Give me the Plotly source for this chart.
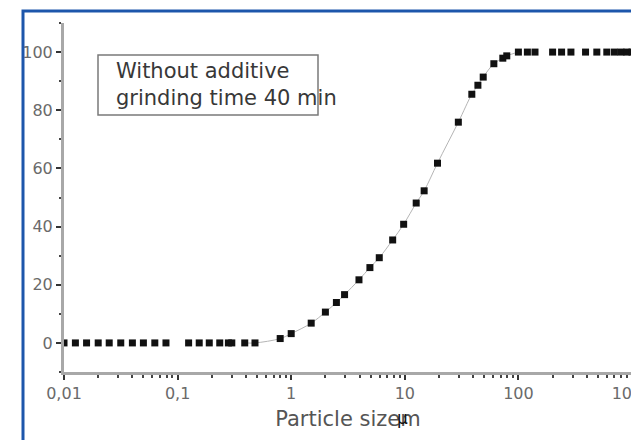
import plotly.graph_objects as go

# Particle size (µm) and cumulative value (%)
particle_size = [
    0.01, 0.0126, 0.0158, 0.02, 0.025, 0.0316, 0.04, 0.05, 0.063, 0.079,
    0.125, 0.155, 0.19, 0.235, 0.28, 0.30, 0.39, 0.48,
    0.8, 1.0, 1.5, 2.0, 2.5, 2.95, 3.95, 4.93, 5.96, 7.82, 9.77,
    12.6, 14.8, 19.4, 29.6, 38.9, 44.0, 49.0, 60.8, 72.9, 79.0,
    100, 120, 140, 200, 240, 290, 390, 490, 600, 700, 800, 900, 1000,
]
cumulative = [
    0, 0, 0, 0, 0, 0, 0, 0, 0, 0,
    0, 0, 0, 0, 0, 0, 0, 0,
    1.5, 3.2, 6.8, 10.6, 13.9, 16.6, 21.7, 25.9, 29.3, 35.4, 40.8,
    48.1, 52.3, 61.8, 75.9, 85.5, 88.6, 91.4, 96.0, 97.9, 98.7,
    100, 100, 100, 100, 100, 100, 100, 100, 100, 100, 100, 100, 100,
]

x_tick_vals = [0.01, 0.1, 1, 10, 100, 1000]
x_tick_text = ["0,01", "0,1", "1", "10", "100", "1000"]
x_minor_vals = [m * d for d in [0.01, 0.1, 1, 10, 100] for m in range(2, 10)]
y_tick_vals = [0, 20, 40, 60, 80, 100]

box_lines = ["Without additive", "grinding time 40 min"]
x_title = "Particle sizem"

# fitted curve segment (subset of the data)
curve_x = [x for x in particle_size if 0.39 <= x <= 100]
curve_y = [y for x, y in zip(particle_size, cumulative) if 0.39 <= x <= 100]

# the page body has an 8px margin: the figure is sized to fit the window
OFF = 8
W, H = 631, 432
L, R, T, B = 56, 7, 15, 68
pw, ph = W - L - R, H - T - B


def px(xs):
    return (xs - OFF - L) / pw


def py(ys):
    return (H - B - (ys - OFF)) / ph


fig = go.Figure()
fig.add_trace(go.Scatter(
    x=curve_x, y=curve_y, mode="lines", line_shape="spline",
    line=dict(color="#b5b5b5", width=1), hoverinfo="skip", showlegend=False,
))
fig.add_trace(go.Scatter(
    x=particle_size, y=cumulative, mode="markers",
    marker=dict(symbol="square", size=7, color="#111111"),
    showlegend=False,
))

font = "DejaVu Sans"
fig.update_layout(
    width=W, height=H,
    margin=dict(l=L, r=R, t=T, b=B, autoexpand=False),
    paper_bgcolor="white", plot_bgcolor="white",
    font=dict(family=font, color="#666666"),
    xaxis=dict(
        type="log", range=[-2, 3], automargin=False,
        tickmode="array", tickvals=x_tick_vals, ticktext=x_tick_text,
        ticklabeloverflow="allow",
        ticks="outside", ticklen=5, tickwidth=1.5, tickcolor="#333333",
        minor=dict(tickmode="array", tickvals=x_minor_vals, ticks="outside",
                   ticklen=3, tickwidth=1.5, tickcolor="#444444", showgrid=False),
        showline=True, linecolor="#a8a8a8", linewidth=3,
        showgrid=False, zeroline=False,
        tickfont=dict(size=16, color="#6a6a6a", family=font),
        title=dict(text=x_title, font=dict(size=21, color="#555555", family=font),
                   standoff=10),
    ),
    yaxis=dict(
        range=[-10, 110], automargin=False,
        tickmode="array", tickvals=y_tick_vals,
        ticks="outside", ticklen=5, tickwidth=1.5, tickcolor="#333333",
        minor=dict(dtick=10, tick0=0, ticks="outside", ticklen=2, tickwidth=2,
                   tickcolor="#444444", showgrid=False),
        showline=True, linecolor="#a8a8a8", linewidth=3,
        showgrid=False, zeroline=False,
        tickfont=dict(size=16, color="#6a6a6a", family=font),
    ),
    shapes=[
        dict(type="rect", xref="paper", yref="paper",
             x0=px(23), x1=px(660), y0=py(470), y1=py(11),
             line=dict(color="#1d56ab", width=3), fillcolor="rgba(0,0,0,0)"),
        dict(type="rect", xref="paper", yref="paper",
             x0=px(98), x1=px(318), y0=py(115), y1=py(55),
             line=dict(color="#7a7a7a", width=1.5), fillcolor="rgba(0,0,0,0)"),
    ],
    annotations=[
        dict(xref="paper", yref="paper", x=px(114), y=py(84),
             xanchor="left", yanchor="middle", align="left", showarrow=False,
             text="<br>".join(box_lines),
             font=dict(size=21, color="#383838", family=font)),
        dict(xref="paper", yref="paper", x=px(402), y=py(418),
             xanchor="center", yanchor="middle", showarrow=False,
             text="µ", font=dict(size=17, color="#111111", family=font)),
    ],
)

fig.write_html("out.html")
